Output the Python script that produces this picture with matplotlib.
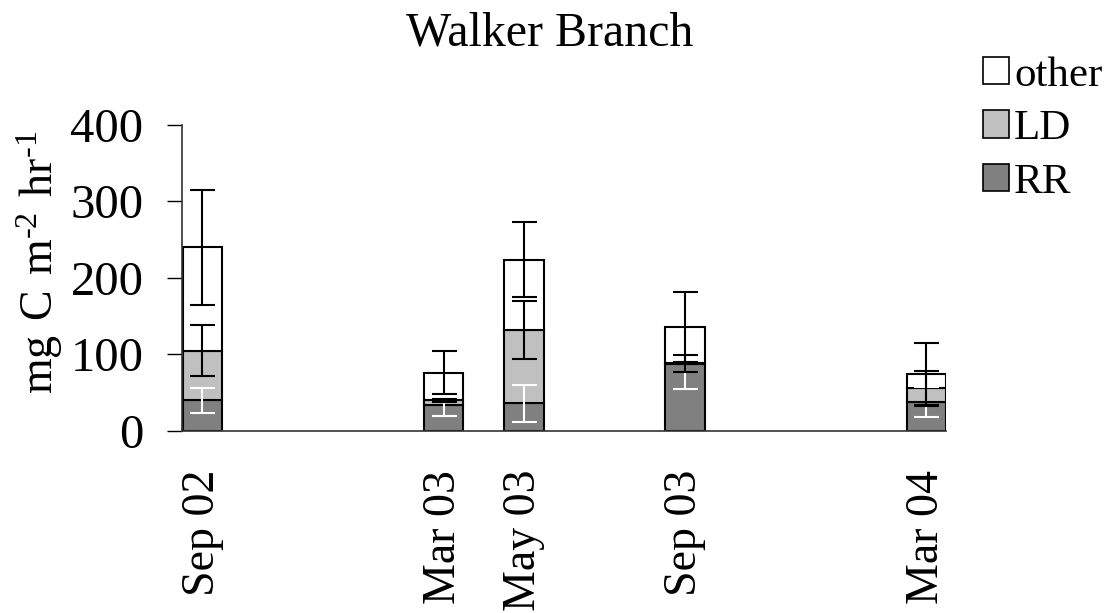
import numpy as np
import matplotlib
matplotlib.use("Agg")
import matplotlib.pyplot as plt
from matplotlib.patches import Patch

plt.rcParams['font.family'] = ['Liberation Serif', 'DejaVu Serif']
plt.rcParams['mathtext.fontset'] = 'custom'
plt.rcParams['mathtext.rm'] = 'Liberation Serif'

# sampling dates (months after Sep 02) and labels
months = [0, 6, 8, 12, 18]
labels = ['Sep 02', 'Mar 03', 'May 03', 'Sep 03', 'Mar 04']

# stacked components, mg C m-2 hr-1
rr = [40, 34, 36, 88, 38]
ld = [65, 6, 96, 0.5, 18]
other = [135, 36, 92, 47.5, 18]

# error bars for each layer (drawn at the cumulative top)
rr_err = [16, 14, 24, 33, 20]
ld_err = [33, 2, 38, 11, 22]
other_err = [75, 28, 49, 46, 41]

x = np.array(months)
rr_top = np.array(rr)
ld_top = rr_top + np.array(ld)
other_top = ld_top + np.array(other)

fig = plt.figure(figsize=(11.07, 6.13), dpi=100)
ax = fig.add_axes([0.1647, 0.2969, 0.6903, 0.4992])

bw = 0.98
kw = dict(width=bw, edgecolor='black', linewidth=1.5, zorder=2)
ax.bar(x, rr, color='#808080', **kw)
ax.bar(x, ld, bottom=rr_top, color='#c0c0c0', **kw)
ax.bar(x, other, bottom=ld_top, color='white', **kw)

ekw = dict(fmt='none', elinewidth=1.5, capsize=9, capthick=1.5, zorder=4)
ax.errorbar(x, rr_top, yerr=rr_err, ecolor='white', **ekw)
ax.errorbar(x, ld_top, yerr=ld_err, ecolor='black', **ekw)
ax.errorbar(x, other_top, yerr=other_err, ecolor='black', **ekw)

ax.set_xlim(-0.5, 18.5)
ax.set_ylim(0, 400)
ax.set_yticks([0, 100, 200, 300, 400])
ax.set_xticks(months)
ax.set_xticklabels(labels, rotation=90)
ax.tick_params(axis='x', length=0, pad=28, labelsize=33)
ax.tick_params(axis='y', length=11, width=1, pad=17, labelsize=35, direction='out')

for s in ['top', 'right']:
    ax.spines[s].set_visible(False)
for s in ['left', 'bottom']:
    ax.spines[s].set_color('#333333')
    ax.spines[s].set_linewidth(1.2)

fig.text(550 / 1107, 1 - 45 / 613, 'Walker Branch', ha='center', va='baseline', fontsize=34.5)
fig.text(40 / 1107, 1 - 262 / 613, r'$\mathregular{mg\ C\ m^{\text{-}2}\ hr^{\text{-}1}}$',
         rotation=90, ha='center', va='center', fontsize=33)

handles = [Patch(facecolor='white', edgecolor='black', linewidth=1.2, label='other'),
           Patch(facecolor='#c0c0c0', edgecolor='black', linewidth=1.2, label='LD'),
           Patch(facecolor='#808080', edgecolor='black', linewidth=1.2, label='RR')]
fig.legend(handles=handles, loc='upper left', bbox_to_anchor=(983 / 1107, 1 - 56 / 613),
           frameon=False, fontsize=31, handlelength=0.6, handleheight=0.6,
           handletextpad=0.12, labelspacing=0.35, borderpad=0, borderaxespad=0)

fig.savefig('out.png', dpi=100)
